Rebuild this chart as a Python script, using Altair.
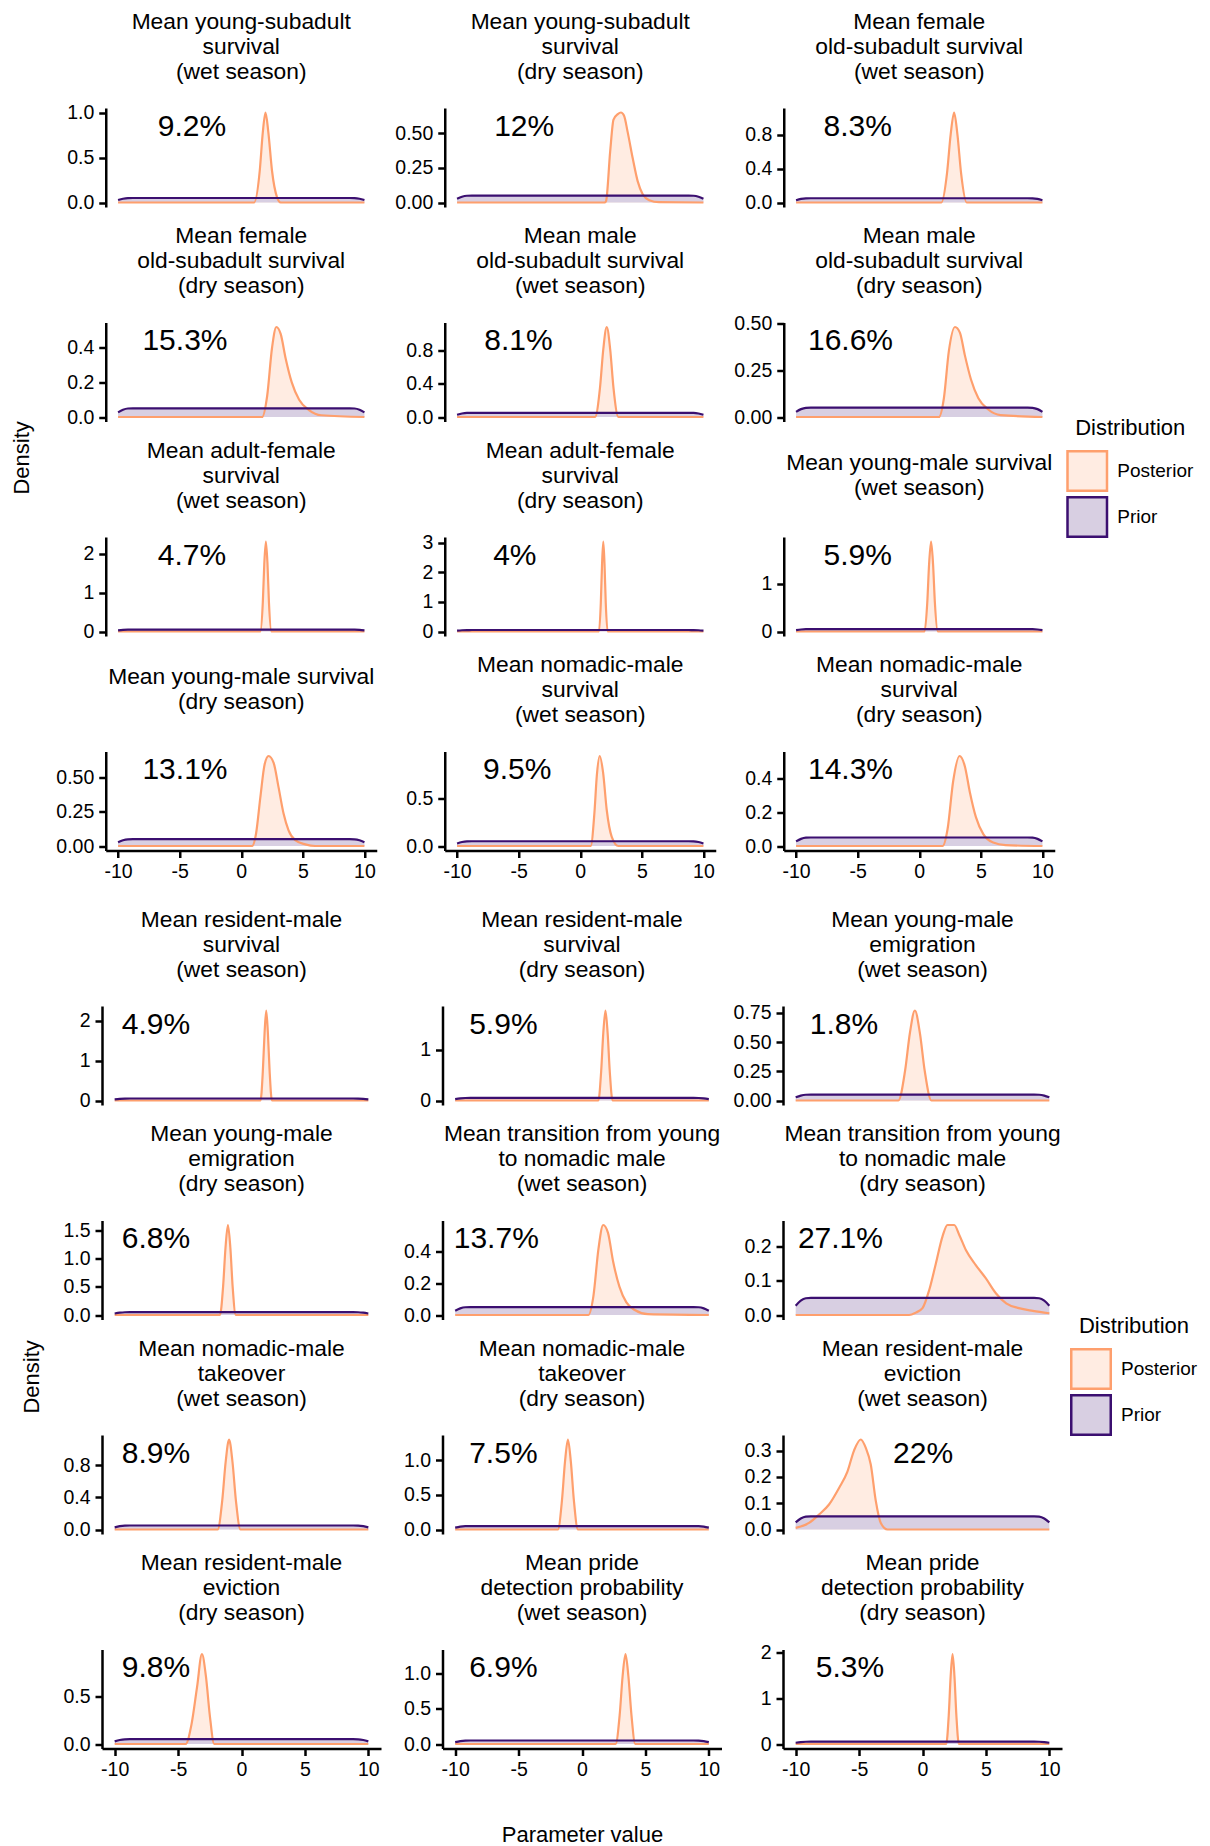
import altair as alt
import pandas as pd

FONT = "Liberation Sans"
ORANGE = "#FE9F6D"
PURPLE = "#3B0F70"
ORANGE_LIGHT = "#FFECE2"
PURPLE_LIGHT = "#D8CFE2"
DIST = ["Posterior", "Prior"]

# Prior density (uniform on [-10, 10], kernel-smoothed edges), shared by all panels
prior_x = [-10, -9.6, -9.2, -8.8, 8.8, 9.2, 9.6, 10]
prior_y = [0.027, 0.042, 0.049, 0.05, 0.05, 0.049, 0.042, 0.027]

titles = [
    ["Mean young-subadult", "survival", "(wet season)"],
    ["Mean young-subadult", "survival", "(dry season)"],
    ["Mean female", "old-subadult survival", "(wet season)"],
    ["Mean female", "old-subadult survival", "(dry season)"],
    ["Mean male", "old-subadult survival", "(wet season)"],
    ["Mean male", "old-subadult survival", "(dry season)"],
    ["Mean adult-female", "survival", "(wet season)"],
    ["Mean adult-female", "survival", "(dry season)"],
    ["Mean young-male survival", "(wet season)"],
    ["Mean young-male survival", "(dry season)"],
    ["Mean nomadic-male", "survival", "(wet season)"],
    ["Mean nomadic-male", "survival", "(dry season)"],
    ["Mean resident-male", "survival", "(wet season)"],
    ["Mean resident-male", "survival", "(dry season)"],
    ["Mean young-male", "emigration", "(wet season)"],
    ["Mean young-male", "emigration", "(dry season)"],
    ["Mean transition from young", "to nomadic male", "(wet season)"],
    ["Mean transition from young", "to nomadic male", "(dry season)"],
    ["Mean nomadic-male", "takeover", "(wet season)"],
    ["Mean nomadic-male", "takeover", "(dry season)"],
    ["Mean resident-male", "eviction", "(wet season)"],
    ["Mean resident-male", "eviction", "(dry season)"],
    ["Mean pride", "detection probability", "(wet season)"],
    ["Mean pride", "detection probability", "(dry season)"],
]

labels = ["9.2%", "12%", "8.3%", "15.3%", "8.1%", "16.6%", "4.7%", "4%", "5.9%",
          "13.1%", "9.5%", "14.3%", "4.9%", "5.9%", "1.8%", "6.8%", "13.7%", "27.1%",
          "8.9%", "7.5%", "22%", "9.8%", "6.9%", "5.3%"]

label_x = [-4.0, -4.55, -5.0, -4.57, -5.02, -5.58, -4.0, -5.31, -5.0, -4.57, -5.12, -5.58,
           -6.74, -6.2, -6.19, -6.74, -6.76, -6.47, -6.74, -6.2, 0.05, -6.74, -6.2, -5.72]

post_x = [
    [-10, 1.05, 1.5, 1.75, 1.97, 2.2, 2.5, 2.9, 3.2, 10],
    [-10, 2.0, 2.1, 2.43, 2.7, 3.05, 3.3, 3.55, 3.85, 4.26, 4.66, 5.07, 5.6, 6.4, 10],
    [-10, 1.8, 2.25, 2.55, 2.83, 3.1, 3.4, 3.85, 10],
    [-10, 1.7, 2.1, 2.5, 2.85, 3.2, 3.6, 4.1, 4.7, 5.5, 6.5, 10],
    [-10, 1.2, 1.6, 1.87, 2.15, 2.43, 2.7, 3.1, 10],
    [-10, 1.6, 2.0, 2.4, 2.9, 3.3, 3.7, 4.2, 4.8, 5.6, 6.6, 10],
    [-10, 1.55, 1.75, 1.87, 2.0, 2.13, 2.25, 2.45, 10],
    [-10, 1.52, 1.67, 1.77, 1.87, 1.97, 2.07, 2.22, 10],
    [-10, 0.43, 0.65, 0.8, 0.96, 1.12, 1.27, 1.5, 10],
    [-10, 0.88, 1.2, 1.55, 1.9, 2.22, 2.63, 3.03, 3.44, 3.84, 4.38, 5.2, 6.0, 10],
    [-10, 0.85, 1.15, 1.35, 1.58, 1.85, 2.15, 2.55, 3.1, 10],
    [-10, 1.9, 2.3, 2.75, 3.27, 3.7, 4.1, 4.6, 5.2, 6.0, 7.0, 10],
    [-10, 1.5, 1.68, 1.82, 1.95, 2.08, 2.22, 2.4, 10],
    [-10, 1.29, 1.51, 1.68, 1.85, 2.02, 2.19, 2.41, 10],
    [-10, -1.9, -1.38, -0.99, -0.6, -0.21, 0.18, 0.7, 10],
    [-10, -1.7, -1.45, -1.26, -1.07, -0.88, -0.7, -0.45, 10],
    [-10, 0.5, 0.9, 1.3, 1.67, 2.05, 2.45, 2.95, 3.5, 4.2, 5.2, 10],
    [-10, -1.05, -0.53, 0.0, 0.53, 1.05, 1.58, 1.97, 2.5, 2.9, 3.42, 4.2, 5.0, 5.8, 6.6, 7.6, 8.7, 10],
    [-10, -1.88, -1.52, -1.25, -0.98, -0.71, -0.44, -0.08, 10],
    [-10, -1.9, -1.58, -1.34, -1.11, -0.88, -0.64, -0.32, 10],
    [-10, -8.95, -8.16, -7.37, -6.58, -5.92, -5.4, -4.87, -4.47, -4.08, -3.68, -3.29, -2.76, 10],
    [-10, -4.4, -3.95, -3.5, -3.12, -2.8, -2.5, -2.15, 10],
    [-10, 2.65, 2.97, 3.2, 3.43, 3.66, 3.9, 4.2, 10],
    [-10, 1.87, 2.07, 2.22, 2.37, 2.52, 2.67, 2.87, 10],
]
post_y = [
    [0, 0, 0.35, 0.78, 1.0, 0.78, 0.35, 0.06, 0, 0],
    [0, 0, 0.012, 0.37, 0.6, 0.64, 0.652, 0.63, 0.51, 0.32, 0.155, 0.06, 0.017, 0.002, 0],
    [0, 0, 0.34, 0.8, 1.06, 0.8, 0.34, 0, 0],
    [0, 0, 0.12, 0.40, 0.52, 0.48, 0.34, 0.2, 0.1, 0.04, 0.01, 0],
    [0, 0, 0.35, 0.82, 1.09, 0.82, 0.35, 0, 0],
    [0, 0, 0.1, 0.35, 0.48, 0.45, 0.33, 0.2, 0.1, 0.04, 0.01, 0],
    [0, 0, 0.74, 1.73, 2.31, 1.73, 0.74, 0, 0],
    [0, 0, 0.97, 2.28, 3.04, 2.28, 0.97, 0, 0],
    [0, 0, 0.6, 1.41, 1.88, 1.41, 0.6, 0, 0],
    [0, 0, 0.09, 0.356, 0.6, 0.66, 0.61, 0.43, 0.236, 0.115, 0.043, 0.012, 0, 0],
    [0, 0, 0.35, 0.75, 0.95, 0.78, 0.38, 0.1, 0, 0],
    [0, 0, 0.1, 0.38, 0.53, 0.47, 0.32, 0.17, 0.07, 0.02, 0.005, 0],
    [0, 0, 0.72, 1.7, 2.26, 1.7, 0.72, 0, 0],
    [0, 0, 0.57, 1.33, 1.77, 1.33, 0.57, 0, 0],
    [0, 0, 0.25, 0.58, 0.77, 0.58, 0.25, 0, 0],
    [0, 0, 0.51, 1.2, 1.6, 1.2, 0.51, 0, 0],
    [0, 0, 0.12, 0.42, 0.57, 0.52, 0.34, 0.18, 0.08, 0.03, 0.005, 0],
    [0, 0, 0.007, 0.02, 0.073, 0.15, 0.23, 0.263, 0.263, 0.234, 0.19, 0.146, 0.107, 0.063, 0.034, 0.02, 0.012, 0.005],
    [0, 0, 0.36, 0.84, 1.12, 0.84, 0.36, 0, 0],
    [0, 0, 0.42, 0.98, 1.3, 0.98, 0.42, 0, 0],
    [0.006, 0.025, 0.057, 0.095, 0.158, 0.22, 0.30, 0.342, 0.31, 0.247, 0.108, 0.025, 0, 0],
    [0, 0, 0.2, 0.6, 0.94, 0.7, 0.3, 0, 0],
    [0, 0, 0.41, 0.96, 1.28, 0.96, 0.41, 0, 0],
    [0, 0, 0.63, 1.48, 1.97, 1.48, 0.63, 0, 0],
]

y_ticks = [
    [0, 0.5, 1.0], [0, 0.25, 0.5], [0, 0.4, 0.8],
    [0, 0.2, 0.4], [0, 0.4, 0.8], [0, 0.25, 0.5],
    [0, 1, 2], [0, 1, 2, 3], [0, 1],
    [0, 0.25, 0.5], [0, 0.5], [0, 0.2, 0.4],
    [0, 1, 2], [0, 1], [0, 0.25, 0.5, 0.75],
    [0, 0.5, 1.0, 1.5], [0, 0.2, 0.4], [0, 0.1, 0.2],
    [0, 0.4, 0.8], [0, 0.5, 1.0], [0, 0.1, 0.2, 0.3],
    [0, 0.5], [0, 0.5, 1.0], [0, 1, 2],
]
y_formats = [
    ".1f", ".2f", ".1f",
    ".1f", ".1f", ".2f",
    "d", "d", "d",
    ".2f", ".1f", ".1f",
    "d", "d", ".2f",
    ".1f", ".1f", ".1f",
    ".1f", ".1f", ".1f",
    ".1f", ".1f", "d",
]
x_ticks = [-10, -5, 0, 5, 10]

PANEL_W = [271, 279]
PANEL_H = 99
COL_SPACING = [68, 61.5]
ROW_SPACING = 115.5
BLOCK_SPACING = 26
LEGEND_X = [960.5, 968]
LEGEND_Y = 310
DENSITY_OFFSET = [21.5, 18]
DENSITY_DX = [-12, 0]
TITLE_OFFSET = {3: -16.5, 2: -3.5}


def make_legend(block):
    return alt.Legend(
        title="Distribution", orient="none", legendX=LEGEND_X[block], legendY=LEGEND_Y,
        symbolType="square", symbolSize=1560, symbolStrokeWidth=2.5,
        labelFontSize=19, labelFont=FONT, labelColor="black", labelOffset=9,
        titleFontSize=22, titleFont=FONT, titleFontWeight="normal", titleColor="black",
        titlePadding=10, titleAnchor="middle", rowPadding=-9,
    )


def panel(i):
    block = i // 12
    last_row = (i % 12) >= 9
    rows = [{"x": a, "y": b, "dist": "Posterior"} for a, b in zip(post_x[i], post_y[i])]
    rows += [{"x": a, "y": b, "dist": "Prior"} for a, b in zip(prior_x, prior_y)]
    df = pd.DataFrame(rows)
    ymax = max(post_y[i])

    xs = alt.Scale(domain=[-11, 11], nice=False, zero=False)
    ys = alt.Scale(domain=[-0.05 * ymax, 1.05 * ymax], nice=False, zero=False)
    if last_row:
        xaxis = alt.Axis(values=x_ticks, labelExpr="'' + datum.value", titlePadding=45)
    else:
        xaxis = None
    xtitle = "Parameter value" if i == 22 else None
    xenc = alt.X("x:Q", scale=xs, axis=xaxis, title=xtitle)
    yenc = alt.Y("y:Q", scale=ys, title=None, stack=None,
                 axis=alt.Axis(values=y_ticks[i], format=y_formats[i]))

    legend = make_legend(block)
    base = alt.Chart(df)
    area = base.mark_area(interpolate="monotone").encode(
        x=xenc, y=yenc,
        fill=alt.Fill("dist:N", scale=alt.Scale(domain=DIST, range=[ORANGE_LIGHT, PURPLE_LIGHT]),
                      legend=legend),
    )
    line = base.mark_line(strokeWidth=2.2, interpolate="monotone").encode(
        x=xenc, y=yenc,
        stroke=alt.Stroke("dist:N", scale=alt.Scale(domain=DIST, range=[ORANGE, PURPLE]),
                          legend=legend),
    )

    tdf = pd.DataFrame({"x": [label_x[i]], "label": [labels[i]]})
    tbase = alt.Chart(tdf)
    text = tbase.mark_text(
        fontSize=30, font=FONT, color="black", align="center", baseline="middle"
    ).encode(x=xenc, y=alt.value(18.5), text="label:N")
    # invisible copy of the label: gives every panel the same top extent above its plot,
    # so that all panel titles sit at the same height
    spacer = tbase.mark_text(
        fontSize=10, font=FONT, opacity=0, align="center", baseline="top"
    ).encode(x=xenc, y=alt.value(-18), text="label:N")

    nlines = len(titles[i])
    return alt.layer(area, line, text, spacer).properties(
        width=PANEL_W[block], height=PANEL_H,
        title=alt.TitleParams(
            text=titles[i], fontSize=22.8, font=FONT, fontWeight="normal", color="black",
            lineHeight=25, anchor="middle", baseline="bottom",
            offset=TITLE_OFFSET[nlines],
        ),
    )


def block(b):
    panels = [panel(i) for i in range(12 * b, 12 * b + 12)]
    return alt.concat(
        *panels, columns=3, bounds="flush",
        spacing={"row": ROW_SPACING, "column": COL_SPACING[b]},
        title=alt.TitleParams("Density", orient="left", anchor="middle", fontSize=22,
                              font=FONT, fontWeight="normal", color="black",
                              offset=DENSITY_OFFSET[b], dx=DENSITY_DX[b]),
    ).resolve_scale(x="independent", y="independent", fill="shared", stroke="shared")


chart = alt.vconcat(block(0), block(1), spacing=BLOCK_SPACING, center=True).resolve_scale(
    fill="independent", stroke="independent"
).properties(
    padding={"left": 2, "top": 2, "right": 0, "bottom": 0}
).configure_axis(
    grid=False, domainColor="black", domainWidth=2.5, tickColor="black", tickWidth=2.5,
    tickSize=7, labelFont=FONT, labelFontSize=19.5, labelColor="black", labelPadding=5,
    labelFlush=False, labelOverlap=False,
    titleFont=FONT, titleFontSize=22, titleFontWeight="normal", titleColor="black",
).configure_view(stroke="transparent")

chart.save("out.html", embed_options={"renderer": "svg", "actions": False})
